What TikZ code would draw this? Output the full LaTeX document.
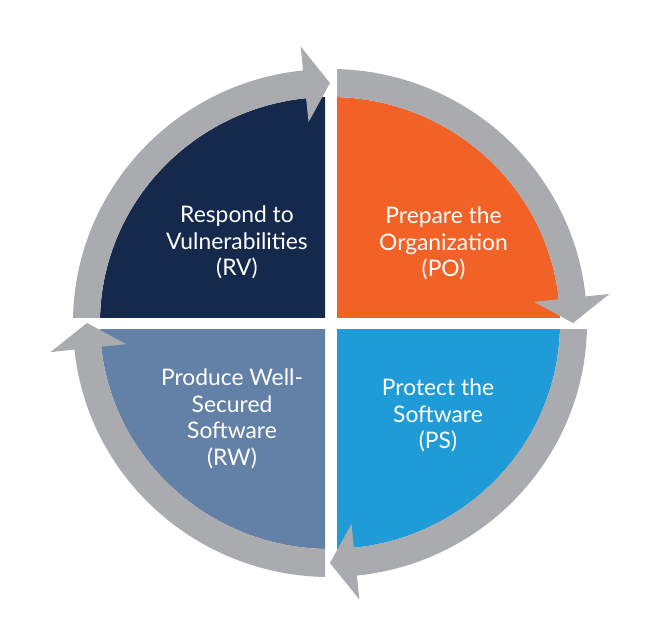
\documentclass[tikz,border=0pt]{standalone}
\usepackage{fontspec}
\setmainfont{Lato}
\definecolor{rvcol}{HTML}{15294C}
\definecolor{pocol}{HTML}{F26126}
\definecolor{pscol}{HTML}{1F9CD8}
\definecolor{rwcol}{HTML}{6381A7}
\definecolor{ringcol}{HTML}{A9ABAF}
\tikzset{
  ringpart/.style={fill=ringcol},
  label/.style={text=white, align=center, anchor=base, inner sep=0pt,
    font=\fontsize{22.8}{26.5}\selectfont}
}
\begin{document}
\begin{tikzpicture}[x=1pt,y=1pt]
\useasboundingbox (0,0) rectangle (647,621);
\fill[white] (0,0) rectangle (647,621);
\coordinate (C) at (330,298);
\begin{scope}[shift={(C)}]
  % quadrants
  \begin{scope}\clip (7,5) rectangle (300,300);
    \fill[pocol] (0,0) circle [x radius=230, y radius=226];
  \end{scope}
  \begin{scope}\clip (7,-6.5) rectangle (300,-300);
    \fill[pscol] (0,0) circle [x radius=230, y radius=226];
  \end{scope}
  \begin{scope}\clip (-5,-6.5) rectangle (-300,-300);
    \fill[rwcol] (0,0) circle [x radius=230, y radius=226];
  \end{scope}
  \begin{scope}\clip (-5,5) rectangle (-300,300);
    \fill[rvcol] (0,0) circle [x radius=230, y radius=226];
  \end{scope}
  % ring: top-right
  \begin{scope}\clip (7,5) rectangle (300,300);
    \fill[ringpart] (95:257 and 254) arc[start angle=95, end angle=5.5, x radius=257, y radius=254]
      -- (5.5:230 and 226) arc[start angle=5.5, end angle=95, x radius=230, y radius=226] -- cycle;
  \end{scope}
  \fill[ringpart] (6:281 and 278) -- (0:243 and 240) -- (6:205 and 202) -- cycle;
  % ring: bottom-right
  \begin{scope}\clip (7,-6.5) rectangle (300,-300);
    \fill[ringpart] (5:257 and 254) arc[start angle=5, end angle=-84.5, x radius=257, y radius=254]
      -- (-84.5:230 and 226) arc[start angle=-84.5, end angle=5, x radius=230, y radius=226] -- cycle;
  \end{scope}
  \fill[ringpart] (-84:281 and 278) -- (-90:243 and 240) -- (-84:205 and 202) -- cycle;
  % ring: bottom-left
  \begin{scope}\clip (-5,-6.5) rectangle (-300,-300);
    \fill[ringpart] (275:257 and 254) arc[start angle=275, end angle=185.5, x radius=257, y radius=254]
      -- (185.5:230 and 226) arc[start angle=185.5, end angle=275, x radius=230, y radius=226] -- cycle;
  \end{scope}
  \fill[ringpart] (186:281 and 278) -- (180:243 and 240) -- (186:205 and 202) -- cycle;
  % ring: top-left
  \begin{scope}\clip (-5,5) rectangle (-300,300);
    \fill[ringpart] (185:257 and 254) arc[start angle=185, end angle=95.5, x radius=257, y radius=254]
      -- (95.5:230 and 226) arc[start angle=95.5, end angle=185, x radius=230, y radius=226] -- cycle;
  \end{scope}
  \fill[ringpart] (96:281 and 278) -- (90:243 and 240) -- (96:205 and 202) -- cycle;
\end{scope}
% labels
\node[label] (rv) at (237,345) {Respond to\\Vulnerabilities\\(RV)};
\node[label] (po) at (443.5,344) {Prepare the\\Organization\\(PO)};
\node[label] (rw) at (232,156) {Produce Well-\\Secured\\Software\\(RW)};
\node[label] (ps) at (438,172) {Protect the\\Software\\(PS)};
\end{tikzpicture}
\end{document}
